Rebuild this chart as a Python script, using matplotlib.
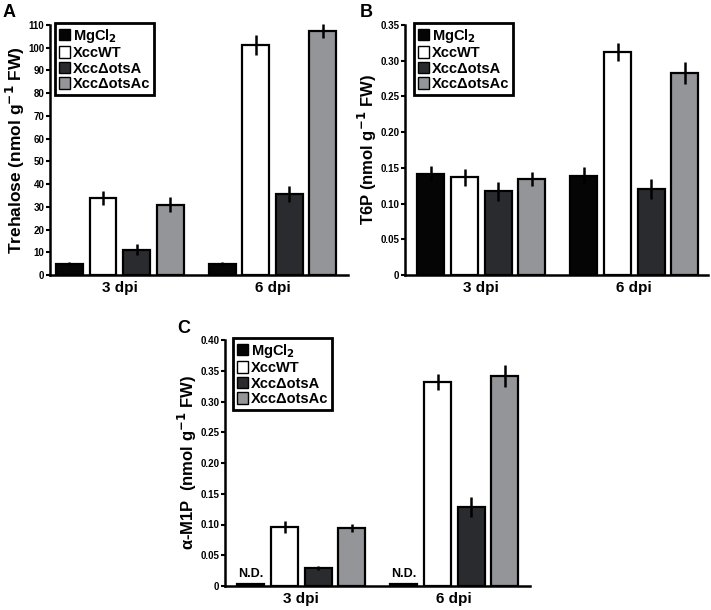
import matplotlib

matplotlib.use("Agg")
import matplotlib.pyplot as plt
from matplotlib.patches import Patch

plt.rcParams["font.family"] = ["Liberation Sans", "DejaVu Sans"]
plt.rcParams["font.weight"] = "bold"
plt.rcParams["mathtext.default"] = "bf"

STRAINS = ["MgCl$_2$", "XccWT", "XccΔotsA", "XccΔotsAc"]
COLORS = ["#050505", "#ffffff", "#2a2b2e", "#939598"]
GROUPS = ["3 dpi", "6 dpi"]

# values per strain: [3 dpi, 6 dpi]
tre_mean = [[4.7, 4.7], [33.8, 101.3], [11.2, 35.8], [31.0, 107.3]]
tre_err = [[0.8, 0.8], [3.0, 4.5], [2.5, 3.5], [3.5, 3.0]]
t6p_mean = [[0.142, 0.139], [0.137, 0.312], [0.117, 0.121], [0.134, 0.283]]
t6p_err = [[0.010, 0.012], [0.012, 0.013], [0.013, 0.014], [0.010, 0.015]]
m1p_mean = [[0.004, 0.004], [0.096, 0.332], [0.029, 0.128], [0.094, 0.341]]
m1p_err = [[0.0, 0.0], [0.010, 0.013], [0.003, 0.016], [0.007, 0.018]]

W, H = 711, 610
GROUP_SHIFT = 4.55


def fig_rect(x0, y0, x1, y1):
    # pixel box (top-left origin) -> figure fraction rect
    return [x0 / W, (H - y1) / H, (x1 - x0) / W, (y1 - y0) / H]


def panel(fig, rect, means, errs, ylim, ticks, ticklabels, ylabel, ylabel_size,
          xlim, legend_xy, nd=False):
    ax = fig.add_axes(fig_rect(*rect))
    for i in range(4):
        for g in range(2):
            x = i + g * GROUP_SHIFT
            ax.bar(x, means[i][g], width=0.8, color=COLORS[i], edgecolor="black",
                   linewidth=1.6, zorder=2)
            if errs[i][g] > 0:
                ax.plot([x, x], [means[i][g] - errs[i][g], means[i][g] + errs[i][g]],
                        color="black", lw=1.8, zorder=3, clip_on=False,
                        solid_capstyle="butt")
    if nd:
        for g in range(2):
            ax.text(g * GROUP_SHIFT, means[0][g] + 0.006, "N.D.", ha="center",
                    va="bottom", fontsize=9, fontweight="bold")
    ax.set_xlim(*xlim)
    ax.set_ylim(*ylim)
    ax.set_yticks(ticks)
    ax.set_yticklabels(ticklabels, fontsize=7, fontweight="bold")
    ax.set_xticks([1.5, 1.5 + GROUP_SHIFT])
    ax.set_xticklabels(GROUPS, fontsize=11, fontweight="bold")
    ax.tick_params(axis="x", length=0, pad=4)
    ax.tick_params(axis="y", length=3, width=1.5, pad=1)
    for s in ["top", "right"]:
        ax.spines[s].set_visible(False)
    for s in ["left", "bottom"]:
        ax.spines[s].set_linewidth(1.8)
    ax.set_ylabel(ylabel, fontsize=ylabel_size, fontweight="bold", labelpad=1)
    handles = [Patch(facecolor=c, edgecolor="black", linewidth=1.0) for c in COLORS]
    leg = ax.legend(handles, STRAINS, loc="upper left",
                    bbox_to_anchor=(legend_xy[0] / W, 1 - legend_xy[1] / H),
                    bbox_transform=fig.transFigure, fancybox=False, frameon=True,
                    framealpha=1, edgecolor="black",
                    handlelength=0.8, handleheight=0.8, handletextpad=0.2,
                    borderpad=0.25, labelspacing=0.1, borderaxespad=0,
                    prop={"weight": "bold", "size": 10.5})
    leg.get_frame().set_linewidth(2.0)
    return ax


fig = plt.figure(figsize=(W / 100, H / 100), dpi=100)

panel(fig, (50, 25, 348, 275), tre_mean, tre_err, (0, 110), range(0, 111, 10),
      [str(v) for v in range(0, 111, 10)], "Trehalose (nmol g$^{-1}$ FW)", 12.5,
      (-0.58, 8.3), (55, 23))

t6p_ticks = [0, 0.05, 0.10, 0.15, 0.20, 0.25, 0.30, 0.35]
panel(fig, (405, 25, 708, 275), t6p_mean, t6p_err, (0, 0.35), t6p_ticks,
      ["0"] + ["%.2f" % v for v in t6p_ticks[1:]], "T6P (nmol g$^{-1}$ FW)", 12,
      (-0.77, 8.24), (414, 23))

m1p_ticks = [0, 0.05, 0.10, 0.15, 0.20, 0.25, 0.30, 0.35, 0.40]
panel(fig, (225, 340, 530, 586), m1p_mean, m1p_err, (0, 0.40), m1p_ticks,
      ["0"] + ["%.2f" % v for v in m1p_ticks[1:]], "α-M1P  (nmol g$^{-1}$ FW)", 12,
      (-0.77, 8.3), (233, 338), nd=True)

for lbl, x, y in [("A", 3, 4), ("B", 360, 4), ("C", 177, 320)]:
    fig.text(x / W, 1 - y / H, lbl, fontsize=13, fontweight="bold", va="top", ha="left")

fig.savefig("out.png", dpi=100)
